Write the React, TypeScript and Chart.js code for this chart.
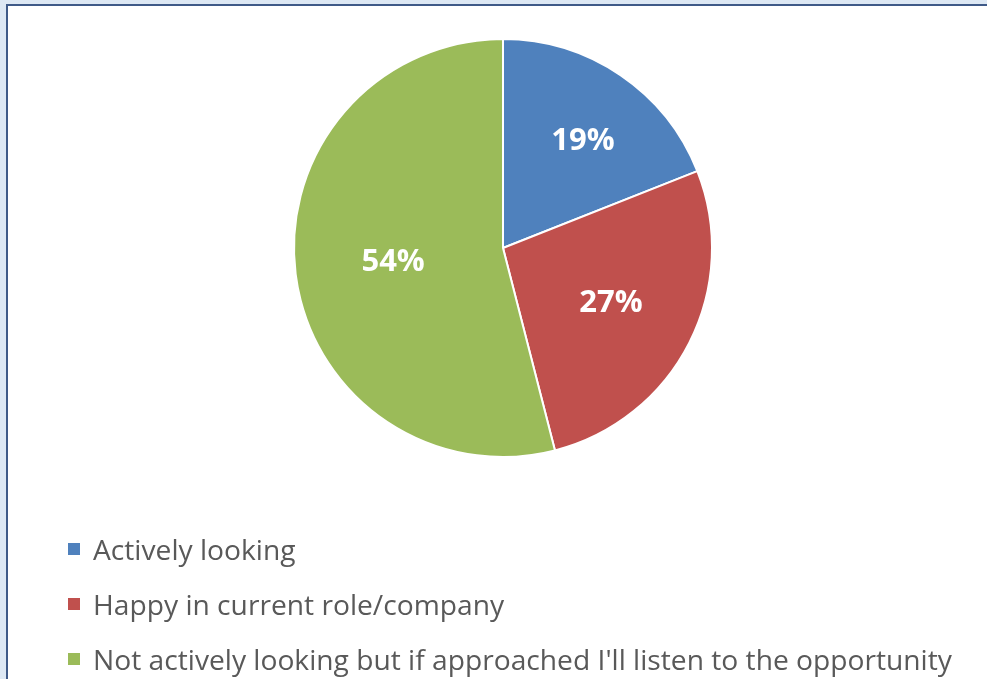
import React, { useEffect, useRef } from "react";
import { Chart, registerables } from "chart.js";

Chart.register(...registerables);

const categories = [
  "Actively looking",
  "Happy in current role/company",
  "Not actively looking but if approached I'll listen to the opportunity",
];
const values = [19, 27, 54];
const valueLabels = ["19%", "27%", "54%"];
const colors = ["#4f81bd", "#c0504d", "#9bbb59"];

const FONT = "'Open Sans', Lato, sans-serif";
const LABEL_RADIUS = [0.63, 0.58, 0.53];

const labelPlugin = {
  id: "sliceLabels",
  afterDatasetsDraw(chart: any) {
    const ctx = chart.ctx;
    const meta = chart.getDatasetMeta(0);
    ctx.save();
    ctx.fillStyle = "#ffffff";
    ctx.font = `bold 31px ${FONT}`;
    ctx.textAlign = "center";
    ctx.textBaseline = "middle";
    meta.data.forEach((arc: any, i: number) => {
      const p = arc.getProps(["x", "y", "startAngle", "endAngle", "outerRadius"], true);
      const mid = (p.startAngle + p.endAngle) / 2;
      const r = p.outerRadius * LABEL_RADIUS[i];
      ctx.fillText(valueLabels[i], p.x + Math.cos(mid) * r + (i === 0 ? 6 : 0), p.y + Math.sin(mid) * r + (i === 0 ? 2 : 0));
    });
    ctx.restore();
  },
};

export default function App() {
  const ref = useRef<HTMLCanvasElement>(null);
  useEffect(() => {
    const chart = new Chart(ref.current!, {
      type: "pie",
      data: {
        labels: categories,
        datasets: [
          {
            data: values,
            backgroundColor: colors,
            borderColor: "#ffffff",
            borderWidth: 2,
            hoverOffset: 0,
          },
        ],
      },
      options: {
        responsive: false,
        animation: false,
        layout: { padding: { top: 38, bottom: 221, left: 19, right: 0 } },
        plugins: { legend: { display: false }, tooltip: { enabled: false } },
      },
      plugins: [labelPlugin],
    });
    return () => chart.destroy();
  }, []);

  return (
    <div style={{ position: "fixed", left: 0, top: 0, width: 987, height: 679, background: "#dde8f4", overflow: "hidden" }}>
      <div
        style={{
          position: "absolute",
          left: 6,
          top: 4,
          right: 0,
          bottom: 0,
          background: "#ffffff",
          borderLeft: "2px solid #3f5a88",
          borderTop: "2px solid #3f5a88",
        }}
      />
      <canvas ref={ref} width={987} height={679} style={{ position: "absolute", left: 0, top: 0 }} />
      {categories.map((c, i) => (
        <div
          key={c}
          style={{
            position: "absolute",
            left: 68,
            top: 549 + i * 55 - 20,
            height: 40,
            display: "flex",
            alignItems: "center",
            fontFamily: FONT,
            fontSize: 28.2,
            color: "#595959",
            whiteSpace: "nowrap",
          }}
        >
          <span style={{ display: "inline-block", width: 12, height: 12, background: colors[i], marginRight: 13, flexShrink: 0 }} />
          {c}
        </div>
      ))}
    </div>
  );
}
